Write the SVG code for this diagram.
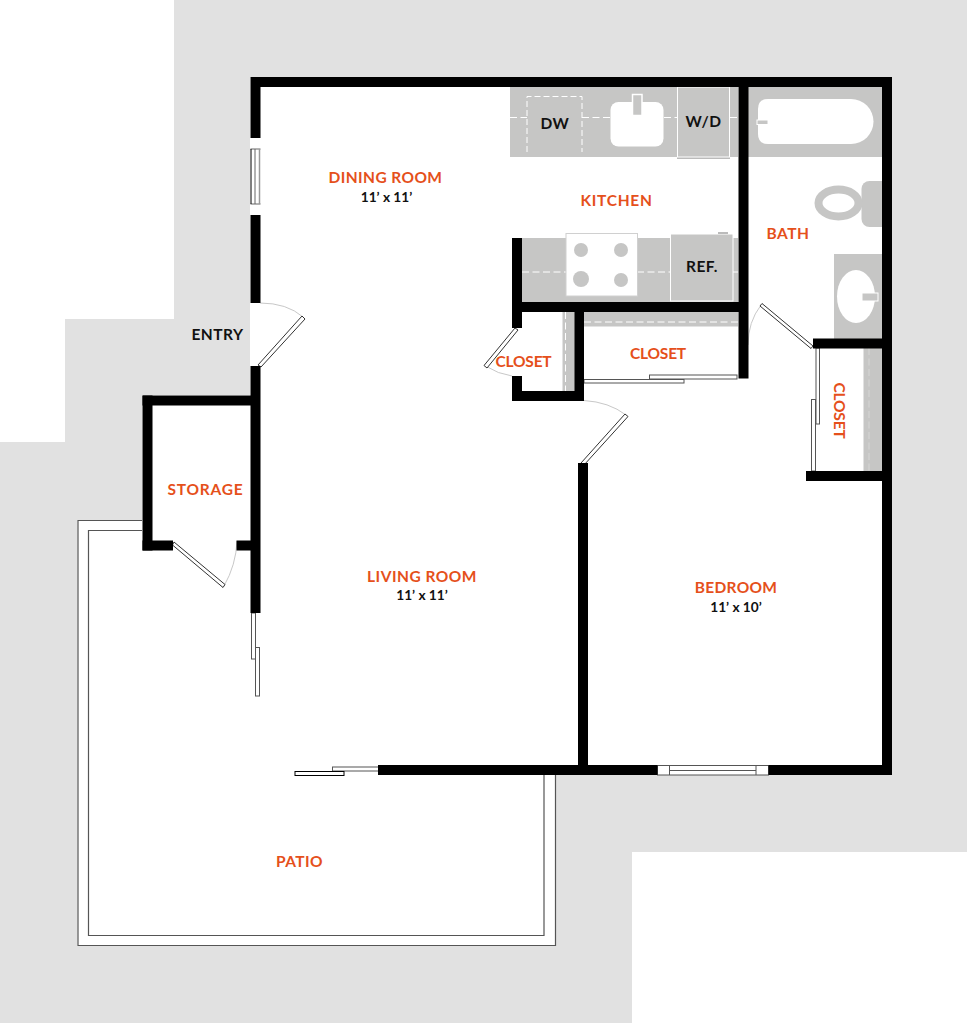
<svg xmlns="http://www.w3.org/2000/svg" width="969" height="1024" viewBox="0 0 969 1024">
<style>
.w{fill:#000}
.c{fill:#c6c6c5}
.d{fill:none;stroke:#fff;stroke-width:1;stroke-dasharray:7 3.500}
.p{fill:#fff;stroke:#000;stroke-width:1}
.g{fill:#fff;stroke:#555;stroke-width:1}
.a{fill:none;stroke:#c8c8c8;stroke-width:1}
text{font-family:Lato,"Liberation Sans",sans-serif;text-anchor:middle;font-weight:700}
.o{fill:#e5501b;font-size:15.500px}
.k{fill:#111;font-size:15.500px;letter-spacing:.5px}
.s{fill:#111;font-size:13.700px}
</style>
<rect width="969" height="1024" fill="#fff"/>
<path d="M174 0H967V852H632V1023H0V442H65V319H174Z" fill="#e1e1e1"/>
<path d="M250 77H892V775H555.500V946H77.500V520H142V395H250Z" fill="#fff"/>
<g id="patio"><path d="M142 520.500H78V945.500H555.500V775M142 530.500H88.500V935.500H544V775" fill="none" stroke="#555" stroke-width="1.200"/></g>
<g id="fixtures">
<rect class="c" x="510" y="87" width="228" height="70"/>
<path class="d" d="M510 117.500H527M582 117.500H610M664 117.500H677M730 117.500H738"/>
<path class="d" d="M527 152V96.500H582V152" style="stroke-dasharray:6 3"/>
<rect x="610.500" y="102" width="53" height="44.500" rx="8" fill="#fff"/>
<rect class="c" x="632.500" y="94.500" width="9.500" height="21" stroke="#fff" stroke-width="1.500"/>
<rect class="c" x="677.500" y="87" width="52" height="70" stroke="#fff" stroke-width="1"/>
<rect x="677" y="157.500" width="53" height="1.500" fill="#bbb"/>
<rect class="c" x="522" y="238" width="216" height="64"/>
<path class="d" d="M522 272H566M637 272H670M733 272H738"/>
<rect x="566" y="233.500" width="71.500" height="62.500" fill="#fff" stroke="#d0d0d0"/>
<circle class="c" cx="581" cy="250" r="7"/><circle class="c" cx="621" cy="250" r="7"/>
<circle class="c" cx="581" cy="279" r="8"/><circle class="c" cx="621" cy="280" r="7"/>
<rect class="c" x="670.500" y="234" width="62.500" height="67" stroke="#fff" stroke-width="1"/>
<rect x="718" y="232" width="10" height="2" fill="#bbb"/>
<rect class="c" x="748" y="87" width="134" height="70"/>
<path d="M768 99H851A22.500 22.500 0 0 1 851 144H768Q758 144 758 134V109Q758 99 768 99Z" fill="#fff"/>
<rect class="c" x="757" y="120" width="11" height="4.500" stroke="#fff"/>
<rect class="c" x="861.500" y="181" width="20.500" height="46" rx="8"/>
<rect class="c" x="872" y="181" width="10" height="46"/>
<ellipse cx="838.500" cy="203" rx="20" ry="13.500" fill="#fff" stroke="#c6c6c5" stroke-width="8"/>
<rect class="c" x="834" y="254" width="48" height="85"/>
<ellipse cx="856" cy="296.500" rx="19" ry="26.500" fill="#fff"/>
<rect class="c" x="862" y="293" width="16" height="8" stroke="#fff"/>
<rect class="c" x="562.500" y="312" width="12.500" height="79"/>
<path class="d" d="M565.500 312V391"/>
<rect class="c" x="584" y="312" width="154" height="14.500"/>
<path class="d" d="M584 322H738"/>
<rect class="c" x="863.500" y="348" width="18.500" height="123"/>
<path class="d" d="M869 348V471" opacity="0.300"/>
</g>
<g id="openings">
<rect x="250.500" y="138" width="10" height="77" fill="#fff"/>
<path d="M250.500 149H260.500M250.500 204H260.500M255 149V204" stroke="#666" fill="none"/>
<path d="M251 149V204" stroke="#000" fill="none"/>
<path d="M259.500 149V204" stroke="#999" stroke-width="1.500" fill="none"/>
<rect class="g" x="251.500" y="613" width="4" height="46"/>
<rect class="g" x="255.500" y="647.500" width="4" height="48.500"/>
<rect class="g" x="332.500" y="767" width="46" height="4"/>
<rect class="p" x="295" y="771.500" width="49" height="4"/>
<rect class="g" x="657.500" y="765.500" width="111" height="9.500"/>
<path d="M669.500 765.500V775M756 765.500V775M669.500 770.500H756" stroke="#555" fill="none"/>
<rect class="g" x="584" y="379.500" width="100" height="3.500"/>
<rect class="g" x="649.500" y="375" width="87.500" height="4"/>
<rect class="g" x="816" y="348" width="3.500" height="76"/>
<rect class="g" x="811.500" y="399.500" width="4" height="71.500"/>
<path class="a" d="M260 303Q287 303 303 317"/>
<path class="a" d="M237 541Q236 565 224 586"/>
<path class="a" d="M485.500 366Q498 374 512 376"/>
<path class="a" d="M584 400.500Q609 402 626 415"/>
<path class="a" d="M761 305Q748 322 748 345"/>
<g fill="#fff" stroke="#333" stroke-width="1">
<path d="M302 316L305 319L261 367L258 365Z"/>
<path d="M174 542L172.500 545L223 587.500L225 584.500Z"/>
<path d="M515 328L518 330L487 368L484 365.500Z"/>
<path d="M625 414L628 416.500L584 465L581 463Z"/>
<path d="M762 303.500L760 306L811 348.500L813 346Z"/>
</g>
</g>
<g id="walls" class="w">
<rect x="251" y="77" width="641" height="10"/>
<rect x="882" y="77" width="10" height="698"/>
<rect x="250.500" y="77" width="10" height="61"/>
<rect x="250.500" y="215" width="10" height="88"/>
<rect x="250.500" y="366" width="10" height="247"/>
<rect x="142.500" y="395.500" width="110" height="10"/>
<rect x="142.500" y="395.500" width="10" height="155"/>
<rect x="142.500" y="540.500" width="30.500" height="10"/>
<rect x="236.500" y="540.500" width="16" height="10"/>
<rect x="378" y="765" width="279.500" height="10"/>
<rect x="768.500" y="765" width="123.500" height="10"/>
<rect x="578" y="463" width="10" height="303"/>
<rect x="738.500" y="87" width="10" height="291.500"/>
<rect x="512" y="238" width="10" height="90"/>
<rect x="512" y="302" width="236" height="10"/>
<rect x="512" y="376" width="10" height="25"/>
<rect x="512" y="391" width="72" height="10"/>
<rect x="574.500" y="312" width="9.500" height="89"/>
<rect x="813" y="338.500" width="70" height="10"/>
<rect x="806" y="471" width="77" height="10"/>
</g>
<g id="labels">
<text class="o" x="385.500" y="182.500" letter-spacing=".4">DINING ROOM</text>
<text class="s" x="386.500" y="201.500">11’ x 11’</text>
<text class="o" x="616.500" y="205.500" letter-spacing=".7">KITCHEN</text>
<text class="o" x="788" y="239" letter-spacing=".5">BATH</text>
<text class="k" x="555" y="129">DW</text>
<text class="k" x="703.500" y="127">W/D</text>
<text class="k" x="702" y="272">REF.</text>
<text class="o" x="523.500" y="367" letter-spacing="-.2">CLOSET</text>
<text class="o" x="658" y="358.500" letter-spacing="-.2">CLOSET</text>
<text class="o" transform="translate(833.500 410.500) rotate(90)" letter-spacing="-.2">CLOSET</text>
<text class="k" x="217.500" y="340" letter-spacing=".7">ENTRY</text>
<text class="o" x="205.500" y="495" letter-spacing=".8">STORAGE</text>
<text class="o" x="422" y="581.500" letter-spacing=".5">LIVING ROOM</text>
<text class="s" x="422" y="600">11’ x 11’</text>
<text class="o" x="736" y="593" letter-spacing=".3">BEDROOM</text>
<text class="s" x="736" y="611.500">11’ x 10’</text>
<text class="o" x="299.500" y="867" letter-spacing=".4">PATIO</text>
</g>
</svg>
